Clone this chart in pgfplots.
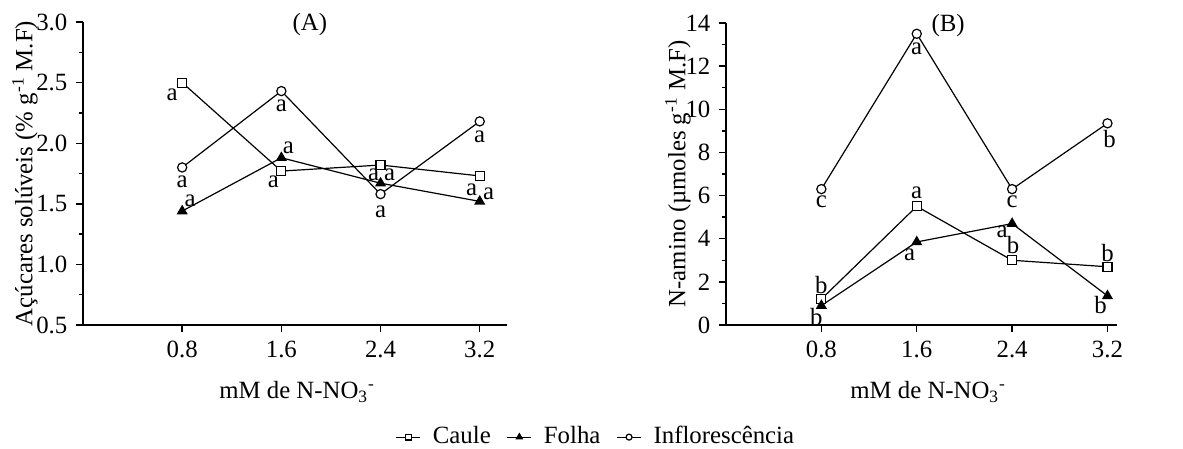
\documentclass[border=0pt]{standalone}
\usepackage{fontspec}
\setmainfont{Liberation Serif}
\usepackage{pgfplots}
\pgfplotsset{compat=1.18}
\tikzset{lab/.style={inner sep=0pt}}
\begin{document}
\fontsize{12.4}{14.8}\selectfont
\begin{tikzpicture}
\pgfplotsset{
  common/.style={
    scale only axis,
    axis lines=left,
    axis line style={-, line width=0.7pt},
    every tick/.style={black, line width=0.7pt},
    major tick length=3.5pt,
    minor tick length=2pt,
    tick align=outside,
    xmin=0,
    xtick={0.8,1.6,2.4,3.2},
    xticklabel style={/pgf/number format/.cd, fixed, fixed zerofill, precision=1},
    /pgf/number format/assume math mode=true,
    minor y tick num=1,
    clip=false,
    legend image code/.code={\draw[mark repeat=2,mark phase=2,##1] plot coordinates {(0pt,0pt) (6pt,0pt) (12pt,0pt)};},
  },
  caule/.style={black, line width=0.6pt, mark=square*, mark size=2.25pt, mark options={fill=white, solid}},
  folha/.style={black, line width=0.6pt, mark=triangle*, mark size=2.6pt, mark options={fill=black, solid}},
  inflo/.style={black, line width=0.6pt, mark=*, mark size=2.3pt, mark options={fill=white, solid}},
}
% ---------------- Panel A ----------------
\begin{axis}[common,
  at={(41.5pt,-162.5pt)}, anchor=south west,
  width=212pt, height=151.5pt,
  xmax=3.42, ymin=0.5, ymax=3.0,
  ytick={0.5,1.0,1.5,2.0,2.5,3.0},
  yticklabel style={/pgf/number format/.cd, fixed, fixed zerofill, precision=1},
  ylabel={Açúcares solúveis (\% g\textsuperscript{-1} M.F)},
  ylabel style={at={(axis description cs:-0.137,0.5)}, anchor=center},
  xlabel={mM de N-NO\textsubscript{3}\textsuperscript{-}},
  xlabel style={at={(axis description cs:0.505,-0.221)}, anchor=center},
  legend style={at={(axis description cs:1.212,-0.370)}, anchor=center, draw=none, fill=none,
    legend columns=3,
    /tikz/every odd column/.append style={column sep=4pt},
    /tikz/every even column/.append style={column sep=6pt}},
  legend cell align=left,
]
\addplot[caule, forget plot] coordinates {(0.8,2.50) (1.6,1.77) (2.4,1.82) (3.2,1.73)};
\addplot[folha, forget plot] coordinates {(0.8,1.44) (1.6,1.88) (2.4,1.67) (3.2,1.52)};
\addplot[inflo, forget plot] coordinates {(0.8,1.80) (1.6,2.43) (2.4,1.58) (3.2,2.18)};
\addlegendimage{black, line width=0.6pt, mark=square*, mark size=1.4pt, mark options={fill=white, solid}}
\addlegendentry{Caule}
\addlegendimage{black, line width=0.6pt, mark=triangle*, mark size=1.7pt, mark options={fill=black, solid}}
\addlegendentry{Folha}
\addlegendimage{black, line width=0.6pt, mark=*, mark size=1.5pt, mark options={fill=white, solid}}
\addlegendentry{Inflorescência}
% letters
\node[lab, xshift=-5pt, yshift=-6pt] at (axis cs:0.8,2.50) {a};
\node[lab, xshift=-4pt, yshift=-5.5pt] at (axis cs:1.6,1.77) {a};
\node[lab, xshift=-3.5pt, yshift=-5pt] at (axis cs:2.4,1.82) {a};
\node[lab, xshift=-4pt, yshift=-7pt] at (axis cs:3.2,1.73) {a};
\node[lab, xshift=4pt, yshift=5pt] at (axis cs:0.8,1.44) {a};
\node[lab, xshift=3.5pt, yshift=5pt] at (axis cs:1.6,1.88) {a};
\node[lab, xshift=4.5pt, yshift=4pt] at (axis cs:2.4,1.67) {a};
\node[lab, xshift=4.5pt, yshift=4pt] at (axis cs:3.2,1.52) {a};
\node[lab, yshift=-7pt] at (axis cs:0.8,1.80) {a};
\node[lab, yshift=-7.5pt] at (axis cs:1.6,2.43) {a};
\node[lab, yshift=-9pt] at (axis cs:2.4,1.58) {a};
\node[lab, yshift=-7.5pt] at (axis cs:3.2,2.18) {a};
\node at (axis description cs:0.535,0.99) {(A)};
\end{axis}
% ---------------- Panel B ----------------
\begin{axis}[common,
  at={(363pt,-162.5pt)}, anchor=south west,
  width=195.5pt, height=151pt,
  xmax=3.28, ymin=0, ymax=14,
  ytick={0,2,...,14},
  ylabel={N-amino (µmoles g\textsuperscript{-1} M.F)},
  ylabel style={at={(axis description cs:-0.123,0.5)}, anchor=center},
  xlabel={mM de N-NO\textsubscript{3}\textsuperscript{-}},
  xlabel style={at={(axis description cs:0.517,-0.221)}, anchor=center},
]
\addplot[inflo] coordinates {(0.8,6.3) (1.6,13.5) (2.4,6.3) (3.2,9.35)};
\addplot[caule] coordinates {(0.8,1.2) (1.6,5.5) (2.4,3.0) (3.2,2.7)};
\addplot[folha] coordinates {(0.8,0.9) (1.6,3.85) (2.4,4.7) (3.2,1.35)};
% letters
\node[lab, yshift=-6.5pt] at (axis cs:0.8,6.3) {c};
\node[lab, yshift=-7.5pt] at (axis cs:1.6,13.5) {a};
\node[lab, yshift=-6.5pt] at (axis cs:2.4,6.3) {c};
\node[lab, xshift=1pt, yshift=-8pt] at (axis cs:3.2,9.35) {b};
\node[lab, yshift=7pt] at (axis cs:0.8,1.2) {b};
\node[lab, yshift=7pt] at (axis cs:1.6,5.5) {a};
\node[lab, xshift=0.5pt, yshift=7.5pt] at (axis cs:2.4,3.0) {b};
\node[lab, yshift=7pt] at (axis cs:3.2,2.7) {b};
\node[lab, xshift=-2.5pt, yshift=-5.5pt] at (axis cs:0.8,0.9) {b};
\node[lab, xshift=-3.5pt, yshift=-6.5pt] at (axis cs:1.6,3.85) {a};
\node[lab, xshift=-5pt, yshift=-4pt] at (axis cs:2.4,4.7) {a};
\node[lab, xshift=-3.5pt, yshift=-4.5pt] at (axis cs:3.2,1.35) {b};
\node at (axis description cs:0.568,0.993) {(B)};
\end{axis}
\pgfresetboundingbox
\path[use as bounding box] (0,0) rectangle (591.5pt,-224.5pt);
\end{tikzpicture}
\end{document}
